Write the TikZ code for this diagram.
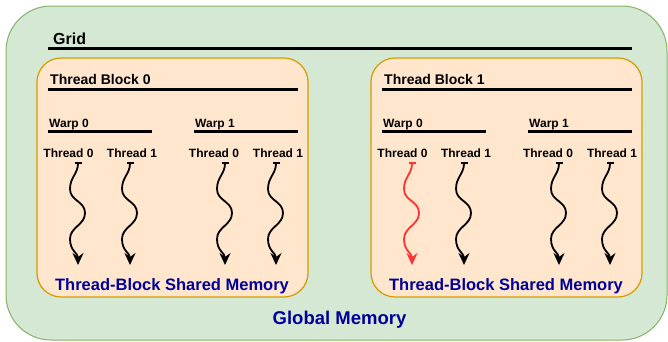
\documentclass[tikz,border=0pt]{standalone}
\usepackage{fontspec}
\setmainfont{Liberation Sans}
\usepackage{xcolor}
\definecolor{cugridbg}{HTML}{D5E8D4}
\definecolor{cugridline}{HTML}{82B366}
\definecolor{cublockbg}{HTML}{FFE6CC}
\definecolor{cublockline}{HTML}{D79B00}
\definecolor{cunavy}{HTML}{000099}
\definecolor{cured}{HTML}{FF3333}
\usepackage{tikz}
\usetikzlibrary{arrows.meta,positioning,calc}
\tikzset{
  cuframe/.style ={rectangle, rounded corners=45pt, draw=cugridline, fill=cugridbg,
                   line width=1pt, minimum width=661pt, minimum height=334pt, inner sep=0pt},
  cublock/.style ={rectangle, rounded corners=24pt, draw=cublockline, fill=cublockbg,
                   line width=1.2pt, minimum width=271pt, minimum height=239pt, inner sep=0pt},
  cuhead/.style  ={anchor=base west, inner sep=0pt, text=black,
                   font=\fontsize{14}{16}\selectfont\bfseries},
  cugridlbl/.style={cuhead, font=\fontsize{16}{18}\selectfont\bfseries},
  cuwarp/.style  ={cuhead, font=\fontsize{12}{14}\selectfont\bfseries},
  cuthread/.style={anchor=base, inner sep=0pt, text=black,
                   font=\fontsize{12}{14}\selectfont\bfseries},
  curule/.style  ={line width=3pt, draw=black},
  cumem/.style   ={anchor=base, inner sep=0pt, text=cunavy,
                   font=\fontsize{16.5}{18}\selectfont\bfseries},
  cuglobal/.style={cumem, font=\fontsize{18.5}{20}\selectfont\bfseries},
  cuthr/.style   ={{Bar[width=7pt]}-{Stealth[length=12pt,width=11pt,inset=4pt]},
                   line width=1.8pt, draw=black,
                   to path={.. controls ($(\tikztostart)+(0,-12)$) and ($(\tikztostart)+(-8,-15)$)
                            .. ($(\tikztostart)+(-8,-27)$)
                            .. controls ($(\tikztostart)+(-8,-39)$) and ($(\tikztostart)+(7,-39)$)
                            .. ($(\tikztostart)+(7,-51)$)
                            .. controls ($(\tikztostart)+(7,-63)$) and ($(\tikztostart)+(-8,-65)$)
                            .. ($(\tikztostart)+(-8,-77)$)
                            .. controls ($(\tikztostart)+(-8,-89)$) and ($(\tikztotarget)+(0,12)$)
                            .. (\tikztotarget)}},
  cuhot/.style   ={cuthr, draw=cured},
}

\begin{document}
\begin{tikzpicture}[x=1pt, y=1pt]
  \useasboundingbox (0,0) rectangle (668,-341);
  \node[cuframe] (frame) at (336.5,-173) {};
  \node[cugridlbl] (grid) at (53,-44) {Grid};
  \draw[curule] (48,-48) -- (632,-48);

  % thread block 0
  \node[cublock] (blk0) at (172.5,-177.5) {};
  \node[cuhead] (hdr0) at (50,-84) {Thread Block 0};
  \draw[curule] (48,-89) -- (298,-89);
  \node[cuwarp] (w00) at (49,-127) {Warp 0};
  \node[cuwarp] (w01) at (195,-127) {Warp 1};
  \draw[curule] (48,-131) -- (152,-131);
  \draw[curule] (194,-131) -- (298,-131);
  \node[cuthread] (t000) at (68.5,-157) {Thread 0};
  \node[cuthread] (t001) at (132,-157) {Thread 1};
  \node[cuthread] (t010) at (214,-157) {Thread 0};
  \node[cuthread] (t011) at (278,-157) {Thread 1};
  \coordinate (s000) at (78,-162);  \coordinate (e000) at (78,-265);
  \coordinate (s001) at (130,-162); \coordinate (e001) at (130,-265);
  \coordinate (s010) at (225,-162); \coordinate (e010) at (225,-265);
  \coordinate (s011) at (276,-162); \coordinate (e011) at (276,-265);
  \draw[cuthr] (s000) to (e000);
  \draw[cuthr] (s001) to (e001);
  \draw[cuthr] (s010) to (e010);
  \draw[cuthr] (s011) to (e011);
  \node[cumem] (smem0) at (172,-290) {Thread-Block Shared Memory};

  % thread block 1
  \node[cublock] (blk1) at (506.5,-177.5) {};
  \node[cuhead] (hdr1) at (384,-84) {Thread Block 1};
  \draw[curule] (382,-89) -- (632,-89);
  \node[cuwarp] (w10) at (383,-127) {Warp 0};
  \node[cuwarp] (w11) at (529,-127) {Warp 1};
  \draw[curule] (382,-131) -- (486,-131);
  \draw[curule] (528,-131) -- (632,-131);
  \node[cuthread] (t100) at (402.5,-157) {Thread 0};
  \node[cuthread] (t101) at (466,-157) {Thread 1};
  \node[cuthread] (t110) at (548,-157) {Thread 0};
  \node[cuthread] (t111) at (612,-157) {Thread 1};
  \coordinate (s100) at (412,-162); \coordinate (e100) at (412,-265);
  \coordinate (s101) at (464,-162); \coordinate (e101) at (464,-265);
  \coordinate (s110) at (559,-162); \coordinate (e110) at (559,-265);
  \coordinate (s111) at (610,-162); \coordinate (e111) at (610,-265);
  \draw[cuhot] (s100) to (e100);
  \draw[cuthr] (s101) to (e101);
  \draw[cuthr] (s110) to (e110);
  \draw[cuthr] (s111) to (e111);
  \node[cumem] (smem1) at (506,-290) {Thread-Block Shared Memory};

  \node[cuglobal] (gmem) at (339.5,-324) {Global Memory};
\end{tikzpicture}
\end{document}
